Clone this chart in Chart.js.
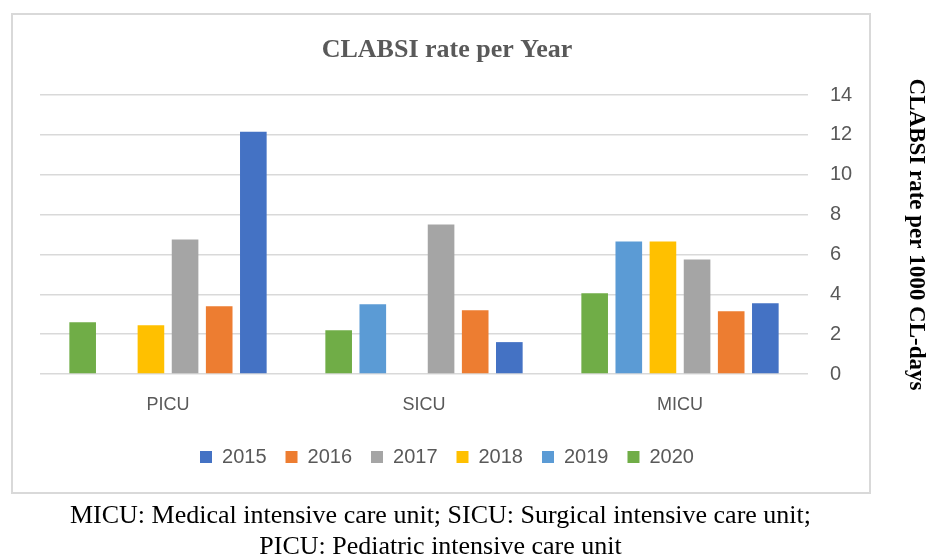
<!DOCTYPE html>
<html>
<head>
<meta charset="utf-8">
<script src="https://cdn.jsdelivr.net/npm/chart.js@4.4.1/dist/chart.umd.min.js"></script>
<style>
  html, body { margin: 0; padding: 0; background: #ffffff; }
  #wrap { position: relative; width: 930px; height: 558px; overflow: hidden; }
  #frame { position: absolute; left: 11px; top: 13px; width: 856px; height: 477px; border: 2px solid #d9d9d9; }
  #c { position: absolute; left: 0; top: 0; }
  #caption { position: absolute; left: 11px; width: 859px; top: 499px; text-align: center;
             font-family: "Liberation Serif", "Times New Roman", serif; font-size: 26px; line-height: 31px; color: #000; }
</style>
</head>
<body>
<div id="wrap">
  <div id="frame"></div>
  <canvas id="c" width="930" height="558"></canvas>
  <div id="caption">MICU: Medical intensive care unit; SICU: Surgical intensive care unit;<br>PICU: Pediatric intensive care unit</div>
</div>
<script>
// ---- data ----
const categories = ["PICU", "SICU", "MICU"];
const years = ["2020", "2019", "2018", "2017", "2016", "2015"];
const values2020 = [2.6, 2.2, 4.05];
const values2019 = [0, 3.5, 6.65];
const values2018 = [2.45, 0, 6.65];
const values2017 = [6.75, 7.5, 5.75];
const values2016 = [3.4, 3.2, 3.15];
const values2015 = [12.15, 1.6, 3.55];
const yTicksMin = 0, yTicksMax = 14, yTickStep = 2;
const chartTitle = "CLABSI rate per Year";
const yAxisTitle = "CLABSI rate per 1000 CL-days";

const seriesValues = [values2020, values2019, values2018, values2017, values2016, values2015];
const seriesColors = ["#70AD47", "#5B9BD5", "#FFC000", "#A5A5A5", "#ED7D31", "#4472C4"];

const datasets = years.map((y, i) => ({
  label: y,
  data: seriesValues[i],
  backgroundColor: seriesColors[i],
  borderWidth: 0,
  categoryPercentage: 0.8,
  barPercentage: 0.78
}));

new Chart(document.getElementById("c"), {
  type: "bar",
  data: { labels: categories, datasets: datasets },
  options: {
    responsive: false,
    animation: false,
    layout: { padding: { left: 40, right: 76, top: 13, bottom: 81 } },
    plugins: {
      title: {
        display: true,
        text: chartTitle,
        color: "#595959",
        font: { family: "'Liberation Serif', 'Times New Roman', serif", size: 26, weight: "bold" },
        padding: { top: 22, bottom: 28.8 }
      },
      legend: {
        display: true,
        position: "bottom",
        reverse: true,
        labels: {
          color: "#595959",
          font: { family: "'Liberation Sans', Arial, sans-serif", size: 20 },
          boxWidth: 12,
          boxHeight: 12,
          padding: 19
        }
      },
      tooltip: { enabled: false }
    },
    scales: {
      x: {
        grid: { display: false },
        border: { display: false },
        ticks: {
          color: "#595959",
          font: { family: "'Liberation Sans', Arial, sans-serif", size: 18 },
          padding: 12
        },
        afterFit: (s) => { s.height = 54; }
      },
      y: {
        position: "right",
        min: yTicksMin,
        max: yTicksMax,
        grid: { color: "#d9d9d9", lineWidth: 1.5, drawTicks: false },
        border: { display: false },
        ticks: {
          stepSize: yTickStep,
          color: "#595959",
          font: { family: "'Liberation Sans', Arial, sans-serif", size: 20 },
          padding: 22
        },
        title: {
          display: true,
          text: yAxisTitle,
          color: "#000000",
          font: { family: "'Liberation Serif', 'Times New Roman', serif", size: 23, weight: "bold" },
          padding: { top: -75.8, bottom: 0 }
        },
        afterFit: (s) => { s.width = 46; }
      }
    }
  }
});
</script>
</body>
</html>
